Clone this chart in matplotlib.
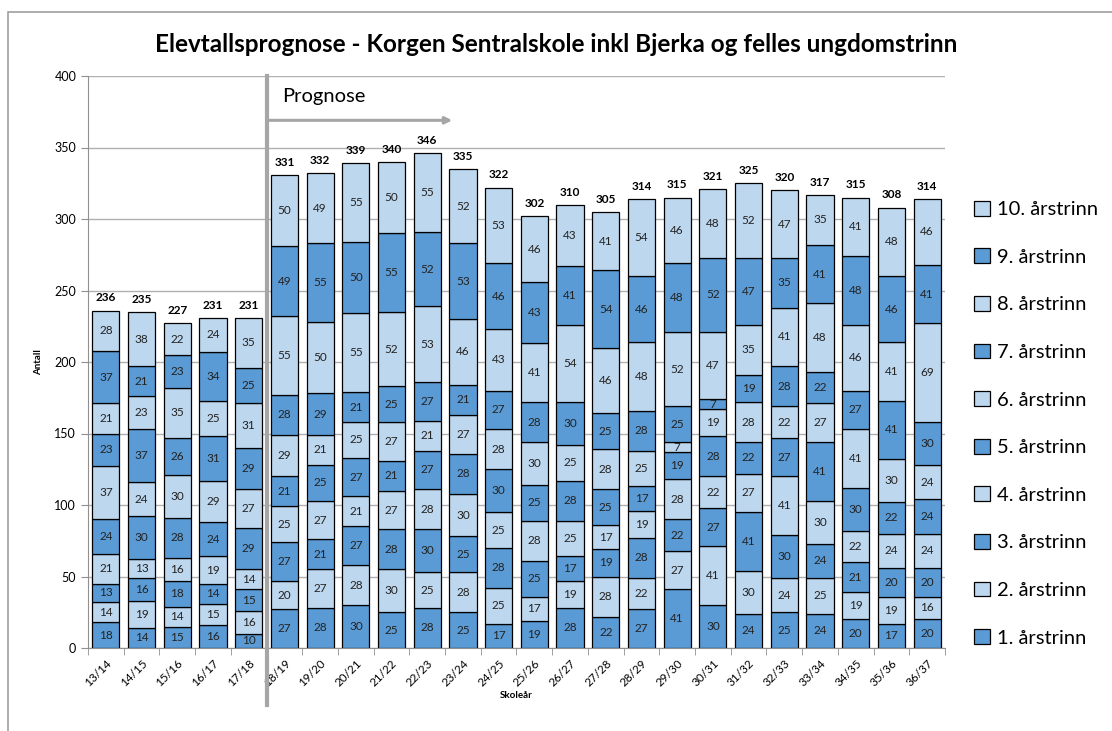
import matplotlib
matplotlib.use("Agg")
import matplotlib.pyplot as plt
import numpy as np
from matplotlib.patches import Rectangle

plt.rcParams['font.family'] = ['Lato', 'DejaVu Sans']

skoleaar = ['13/14', '14/15', '15/16', '16/17', '17/18', '18/19', '19/20', '20/21',
            '21/22', '22/23', '23/24', '24/25', '25/26', '26/27', '27/28', '28/29',
            '29/30', '30/31', '31/32', '32/33', '33/34', '34/35', '35/36', '36/37']

trinn1 = [18, 14, 15, 16, 10, 27, 28, 30, 25, 28, 25, 17, 19, 28, 22, 27, 41, 30, 24, 25, 24, 20, 17, 20]
trinn2 = [14, 19, 14, 15, 16, 20, 27, 28, 30, 25, 28, 25, 17, 19, 28, 22, 27, 41, 30, 24, 25, 19, 19, 16]
trinn3 = [13, 16, 18, 14, 15, 27, 21, 27, 28, 30, 25, 28, 25, 17, 19, 28, 22, 27, 41, 30, 24, 21, 20, 20]
trinn4 = [21, 13, 16, 19, 14, 25, 27, 21, 27, 28, 30, 25, 28, 25, 17, 19, 28, 22, 27, 41, 30, 22, 24, 24]
trinn5 = [24, 30, 28, 24, 29, 21, 25, 27, 21, 27, 28, 30, 25, 28, 25, 17, 19, 28, 22, 27, 41, 30, 22, 24]
trinn6 = [37, 24, 30, 29, 27, 29, 21, 25, 27, 21, 27, 28, 30, 25, 28, 25, 7, 19, 28, 22, 27, 41, 30, 24]
trinn7 = [23, 37, 26, 31, 29, 28, 29, 21, 25, 27, 21, 27, 28, 30, 25, 28, 25, 7, 19, 28, 22, 27, 41, 30]
trinn8 = [21, 23, 35, 25, 31, 55, 50, 55, 52, 53, 46, 43, 41, 54, 46, 48, 52, 47, 35, 41, 48, 46, 41, 69]
trinn9 = [37, 21, 23, 34, 25, 49, 55, 50, 55, 52, 53, 46, 43, 41, 54, 46, 48, 52, 47, 35, 41, 48, 46, 41]
trinn10 = [28, 38, 22, 24, 35, 50, 49, 55, 50, 55, 52, 53, 46, 43, 41, 54, 46, 48, 52, 47, 35, 41, 48, 46]

serier = [trinn1, trinn2, trinn3, trinn4, trinn5, trinn6, trinn7, trinn8, trinn9, trinn10]
navn = ['%d. årstrinn' % (i + 1) for i in range(10)]

mork = '#5B9BD5'
lys = '#BDD7EE'

fig = plt.figure(figsize=(11.12, 7.31), dpi=100)
ax = fig.add_axes([88 / 1112, 83 / 731, 857 / 1112, 572 / 731])

# ramme rundt hele diagrammet
fig.patches.append(Rectangle((8 / 1112, -0.05), 1.1, 1 - 12 / 731 + 0.05,
                             transform=fig.transFigure, fill=False,
                             edgecolor='#a0a0a0', linewidth=1.2))

x = np.arange(len(skoleaar))
bunn = np.zeros(len(skoleaar))
handles = []
for i, s in enumerate(serier):
    farge = mork if i % 2 == 0 else lys
    b = ax.bar(x, s, 0.76, bottom=bunn, color=farge, edgecolor='black',
               linewidth=0.9, zorder=3, label=navn[i])
    handles.append(b)
    for xi, v, b0 in zip(x, s, bunn):
        ax.text(xi, b0 + v / 2, str(v), ha='center', va='center',
                fontsize=8.5, color='#222222', zorder=4)
    bunn = bunn + np.array(s)

# totaler over stolpene
for xi, tot in zip(x, bunn):
    ax.text(xi, tot + 5, str(int(tot)), ha='center', va='bottom',
            fontsize=8.5, fontweight='bold', zorder=4)

ax.set_xlim(-0.5, len(skoleaar) - 0.5)
ax.set_ylim(0, 400)
ax.set_yticks(np.arange(0, 401, 50))
ax.yaxis.grid(True, color='#b0b0b0', linewidth=1.0, zorder=0)
ax.set_axisbelow(True)
ax.set_xticks(x)
ax.set_xticklabels(skoleaar, rotation=45, ha='right', rotation_mode='anchor', fontsize=8.5)
ax.set_xticks(np.arange(-0.5, len(skoleaar), 1), minor=True)
ax.tick_params(axis='x', which='major', length=0, pad=7)
ax.tick_params(axis='x', which='minor', length=5, color='#909090')
ax.tick_params(axis='y', labelsize=9, length=5, color='#909090')
for side in ['top', 'right']:
    ax.spines[side].set_visible(False)
ax.spines['left'].set_color('#909090')
ax.spines['bottom'].set_color('#909090')

ax.set_ylabel('Antall', fontsize=7, fontweight='bold', labelpad=8)
ax.set_xlabel('Skoleår', fontsize=7, fontweight='bold', labelpad=2)

# prognose-markering
ax.plot([4.5, 4.5], [-40, 400], color='#a6a6a6', linewidth=3, clip_on=False, zorder=5)
ax.annotate('', xy=(9.7, 369), xytext=(4.5, 369),
            arrowprops=dict(arrowstyle='-|>', color='#a6a6a6', lw=2.2,
                            mutation_scale=10, shrinkA=0, shrinkB=0), zorder=5)
ax.text(4.95, 386, 'Prognose', fontsize=14.5, va='center', ha='left')

fig.suptitle('Elevtallsprognose - Korgen Sentralskole inkl Bjerka og felles ungdomstrinn',
             x=0.5, y=1 - 45 / 731, va='center', fontsize=17.5, fontweight='bold')

leg = ax.legend(handles[::-1], navn[::-1], loc='center left',
                bbox_to_anchor=(1.025, 0.392), frameon=False, fontsize=14.5,
                handlelength=0.75, handleheight=0.75, handletextpad=0.35,
                labelspacing=1.5, borderaxespad=0)

fig.savefig('out.png', dpi=100)
